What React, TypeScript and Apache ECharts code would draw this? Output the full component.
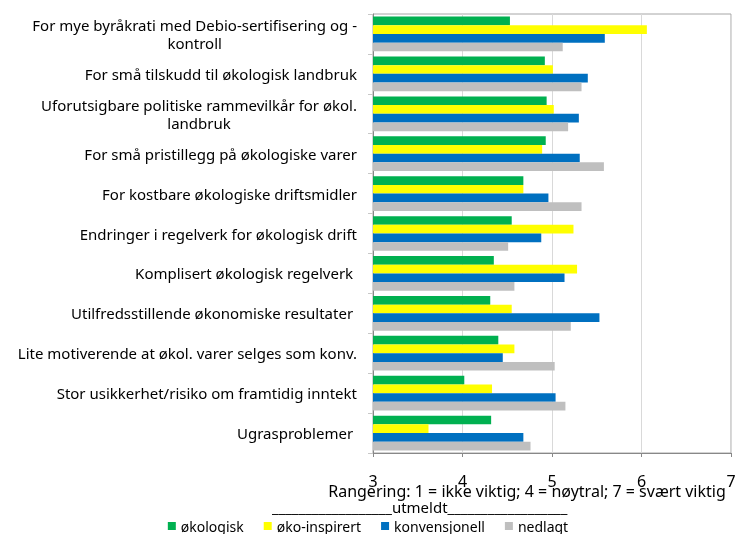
import React, { useEffect, useRef } from "react";
import * as echarts from "echarts";

const categories = [
  "For mye byråkrati med Debio-sertifisering og -\nkontroll",
  "For små tilskudd til økologisk landbruk",
  "Uforutsigbare politiske rammevilkår for økol.\nlandbruk",
  "For små pristillegg på økologiske varer",
  "For kostbare økologiske driftsmidler",
  "Endringer i regelverk for økologisk drift",
  "Komplisert økologisk regelverk ",
  "Utilfredsstillende økonomiske resultater ",
  "Lite motiverende at økol. varer selges som konv.",
  "Stor usikkerhet/risiko om framtidig inntekt",
  "Ugrasproblemer ",
];
const seriesNames = ["økologisk", "øko-inspirert", "konvensjonell", "nedlagt"];
const okologisk = [4.53, 4.92, 4.94, 4.93, 4.68, 4.55, 4.35, 4.31, 4.4, 4.02, 4.32];
const okoInspirert = [6.06, 5.01, 5.02, 4.89, 4.68, 5.24, 5.28, 4.55, 4.58, 4.33, 3.62];
const konvensjonell = [5.59, 5.4, 5.3, 5.31, 4.96, 4.88, 5.14, 5.53, 4.45, 5.04, 4.68];
const nedlagt = [5.12, 5.33, 5.18, 5.58, 5.33, 4.51, 4.58, 5.21, 5.03, 5.15, 4.76];
const xMin = 3;
const xMax = 7;
const xInterval = 1;
const axisTitle = "Rangering: 1 = ikke viktig; 4 = nøytral; 7 = svært viktig";
const subTitle = "__________________utmeldt__________________";

const colors = ["#00B050", "#FFFF00", "#0070C0", "#BFBFBF"];
const FONT = "Noto Sans";

export default function App() {
  const ref = useRef<HTMLDivElement>(null);
  useEffect(() => {
    if (!ref.current) return;
    const chart = echarts.init(ref.current, null, { renderer: "svg" });
    const values = [okologisk, okoInspirert, konvensjonell, nedlagt];
    chart.setOption({
      animation: false,
      textStyle: { fontFamily: FONT },
      grid: {
        left: 373,
        right: 5,
        top: 14,
        bottom: 81,
        show: true,
        borderColor: "#A6A6A6",
        borderWidth: 1,
        containLabel: false,
        outerBoundsMode: "none",
      },
      legend: {
        data: seriesNames,
        left: "center",
        top: 514,
        icon: "rect",
        itemWidth: 8,
        itemHeight: 8,
        itemGap: 20,
        itemStyle: { borderWidth: 0 },
        textStyle: { fontSize: 14, color: "#000", fontFamily: FONT },
      },
      xAxis: {
        type: "value",
        min: xMin,
        max: xMax,
        interval: xInterval,
        name: axisTitle,
        nameLocation: "middle",
        nameGap: 30,
        nameMoveOverlap: false,
        nameTextStyle: {
          fontSize: 16,
          color: "#000",
          fontFamily: FONT,
          padding: [0, 50, 0, 0],
          lineHeight: 16,
        },
        axisLine: { show: true, lineStyle: { color: "#888" } },
        axisTick: { show: true, length: 4, lineStyle: { color: "#888" } },
        axisLabel: { margin: 20, fontSize: 16, color: "#000", fontFamily: FONT, lineHeight: 16 },
        splitLine: { show: true, lineStyle: { color: "#D9D9D9" } },
      },
      yAxis: {
        type: "category",
        data: categories,
        inverse: true,
        axisLine: { show: true, lineStyle: { color: "#888" } },
        axisTick: { show: true, length: 5, lineStyle: { color: "#C8C8C8" } },
        axisLabel: {
          margin: 16,
          formatter: (v: string) => v.split("\n").map((l) => `{c|${l}}`).join("\n"),
          rich: {
            c: { align: "center", fontSize: 15, color: "#000", fontFamily: FONT, lineHeight: 18 },
          },
        },
      },
      graphic: [
        {
          type: "text",
          left: 272,
          top: 499,
          style: { text: subTitle, fontSize: 15, fill: "#000", fontFamily: FONT },
        },
      ],
      series: values.map((d, i) => ({
        name: seriesNames[i],
        type: "bar",
        data: d,
        barGap: "0%",
        barCategoryGap: "13%",
        itemStyle: { color: colors[i] },
      })),
    });
    return () => chart.dispose();
  }, []);
  return <div ref={ref} style={{ position: "fixed", left: 0, top: 0, width: 736, height: 534 }} />;
}
